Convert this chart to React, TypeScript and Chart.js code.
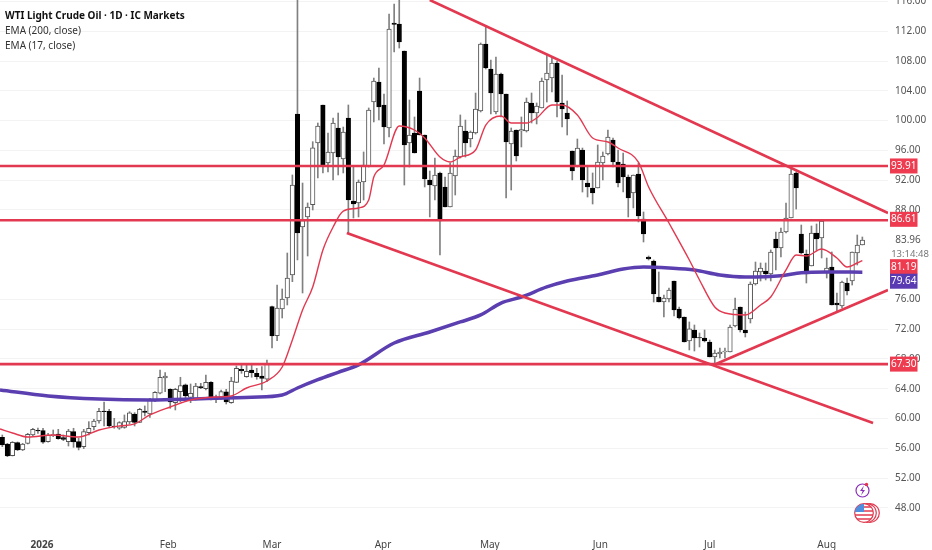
import React, { useEffect, useRef } from "react";
import { Chart, registerables } from "chart.js";

Chart.register(...registerables);

const opens = [57.47,56.57,55.0,56.75,55.77,56.66,57.78,58.41,58.36,56.89,57.69,57.91,57.42,56.89,58.23,56.89,56.21,58.09,58.9,59.66,61.0,60.96,58.99,58.68,58.81,59.53,60.6,59.48,61.0,60.6,62.48,63.38,65.44,63.91,62.12,63.6,64.5,62.84,62.7,64.27,64.0,64.85,62.84,62.84,63.56,62.12,64.85,66.6,65.6,66.51,66.06,65.7,65.26,
75.01,71.12,74.7,76.18,79.27,100.89,85.71,87.06,88.71,97.0,102.1,94.31,95.65,99.01,94.85,100.35,89.21,88.94,91.76,93.91,102.5,105.19,102.1,99.01,113.11,112.98,109.35,97.0,98.34,103.98,98.07,92.03,91.22,92.97,91.09,88.4,92.56,95.11,98.61,97.53,98.34,101.29,110.29,106.93,101.16,106.26,103.58,96.86,98.74,98.61,98.61,102.37,101.02,101.7,105.46,105.72,107.74,102.37,101.02,
95.92,93.91,96.05,91.62,90.95,90.95,94.31,95.52,97.4,94.44,94.17,92.43,90.28,92.83,86.79,81.68,81.15,76.31,75.64,76.04,78.46,74.7,73.63,70.4,71.88,70.87,70.81,70.27,68.26,68.66,68.93,68.93,72.42,74.97,71.88,73.36,78.06,79.67,79.8,79.4,84.1,82.89,85.04,86.92,92.97,84.77,82.09,80.48,84.91,84.24,79.54,80.34,75.51,75.1,78.19,78.46,82.22,83.3];
const highs = [57.78,56.66,56.89,56.84,56.66,58.0,58.68,58.72,58.68,58.0,58.45,58.54,57.78,58.54,58.68,57.33,58.54,59.57,59.88,61.36,62.21,61.23,60.02,59.57,60.47,60.91,60.78,61.36,61.68,62.7,63.6,66.51,66.15,64.0,64.05,65.53,64.63,64.63,64.72,64.72,65.84,64.94,63.15,63.82,63.91,65.53,67.05,67.32,67.32,67.32,66.73,66.96,67.85,
75.1,77.92,77.39,82.22,92.7,117,91.62,88.94,97.17,99.68,102.1,98.34,100.35,101.02,99.14,102.1,93.77,92.03,95.79,101.7,105.72,107.07,103.58,114.32,115.66,117,109.35,102.77,100.49,105.72,98.07,93.23,94.98,93.1,92.43,94.31,96.06,100.76,100.08,98.61,103.71,110.43,112.57,108.14,108.54,106.4,103.58,99.01,98.74,100.49,103.04,103.71,102.37,105.72,108.81,108.54,108.01,106.13,102.64,
95.92,97.53,96.32,93.77,92.97,96.73,95.79,98.74,97.67,96.05,95.65,92.7,92.7,94.31,87.73,81.82,81.28,79.67,76.58,77.52,78.46,74.97,73.63,72.96,72.55,71.48,71.88,70.54,69.2,69.46,69.46,72.55,76.18,74.97,74.3,78.33,81.01,80.88,80.88,82.63,85.04,85.58,88.94,93.77,93.1,85.98,82.63,85.85,86.12,86.52,81.55,82.36,76.85,78.46,78.86,82.36,84.64,84.37];
const lows = [56.21,54.87,54.96,55.68,55.68,56.57,57.69,58.0,56.66,56.8,57.56,57.2,57.02,56.3,56.12,55.77,55.95,57.78,58.45,59.35,58.99,58.81,58.68,58.54,58.68,59.26,58.99,59.44,60.33,60.15,62.26,63.29,63.6,61.36,61.14,62.26,62.7,62.12,62.48,64.0,63.82,62.48,62.12,62.57,61.94,62.03,64.81,66.06,65.53,65.53,65.26,63.82,64.94,
69.46,70.44,73.49,75.24,78.37,81.28,76.85,81.82,88.0,92.3,92.97,93.1,92.03,92.7,92.97,84.91,86.92,87.06,89.34,93.77,99.82,100.08,96.86,97.8,109.22,109.75,91.35,93.77,95.65,98.07,91.09,87.06,89.34,81.95,88.4,88.4,90.01,94.98,95.11,96.46,98.2,101.16,106.93,100.89,100.89,100.49,89.61,90.68,94.58,96.46,98.47,99.68,99.55,101.7,102.5,103.84,100.49,99.14,98.07,
92.03,93.77,90.41,89.74,88.8,90.95,92.03,95.38,93.77,91.09,90.41,87.06,88.27,86.39,83.7,81.28,75.64,75.64,73.63,75.64,73.76,73.36,70.27,69.2,69.06,69.6,70.27,68.26,67.45,68.12,68.12,68.93,72.28,71.61,70.94,72.82,77.92,78.46,78.6,78.46,79.94,81.68,84.91,86.92,88.13,82.09,78.19,80.48,82.63,81.55,78.86,75.24,74.3,74.84,76.58,77.92,80.61,83.3];
const closes = [56.44,54.96,56.8,55.77,56.57,57.87,58.54,58.32,56.8,57.78,57.83,57.29,57.2,58.32,56.84,56.12,58.23,58.68,59.66,60.96,60.91,58.99,58.9,59.44,59.57,60.74,59.48,61.23,60.82,62.57,63.51,65.53,65.7,62.21,63.91,64.41,63.02,63.38,64.36,64.09,64.85,62.84,62.62,63.6,62.21,65.03,66.73,66.42,66.33,66.15,65.6,65.39,67.32,
71.08,74.84,76.04,78.86,91.35,84.91,86.56,88.4,96.36,99.28,94.04,95.79,99.68,95.11,98.47,89.34,88.8,91.76,94.04,101.43,105.32,101.83,99.14,112.31,112.91,110.56,96.73,98.07,95.65,98.07,92.16,91.35,92.7,86.52,88.4,92.97,95.25,99.28,97.0,98.47,101.56,110.29,107.07,103.71,106.26,103.58,97.13,98.61,95.25,98.81,102.5,101.02,101.96,105.32,106.4,107.74,102.5,101.56,100.22,
93.23,96.32,92.03,91.09,90.28,94.44,95.25,97.8,94.44,91.62,92.43,89.61,92.7,87.19,84.77,81.42,76.72,75.64,76.18,77.25,74.57,73.49,70.27,72.02,70.81,70.81,70.4,68.26,68.79,68.93,69.06,72.28,74.7,71.88,71.48,78.06,79.8,80.21,79.4,82.36,82.89,85.04,86.92,92.83,90.95,82.22,79.4,84.91,84.1,86.52,80.21,75.24,75.24,78.33,77.12,82.36,83.3,83.97];

const ema200Index = [-0.45,9,19,29,39,49,55,58,62,66,70,77,84,90,94,98,102,107,111,117,122,126,131,136,141,146,153,157,162,169];
const ema200Values = [63.82,63.02,62.61,62.48,62.65,62.84,63.15,64.09,65.2,66.2,67.2,70.13,71.61,72.96,73.9,75.5,76.31,77.66,78.46,79.27,80.07,80.34,80.21,79.94,79.27,79.0,79.17,79.58,79.67,79.64];

const ema17Index = [-0.45,2,5,10,15,19,23,26,29,33,37,42,45,48,52,55,57,59,61,63,65,67,70,72,73,75,78,81,83,86,88,90,93,95,98,100,103,105,108,110,113,116,119,121,125,127,131,135,137,140,142,146,149,151,154,156,158,161,164,166,168,169];
const ema17Values = [58.58,58.05,57.51,57.78,57.51,58.45,58.99,59.26,60.47,61.54,62.48,62.88,63.02,64.09,65.03,66.91,70.54,74.57,77.66,82.63,85.71,87.86,88.27,89.34,92.43,94.04,99.28,98.74,97.67,95.11,94.44,95.11,96.05,99.41,100.62,99.68,99.68,100.35,102.1,102.1,100.76,97.67,97.13,96.32,94.44,91.09,86.25,81.28,78.6,74.97,74.16,73.9,75.24,76.31,79.94,81.95,81.82,82.76,81.55,80.34,80.88,81.19];

const levels = [93.91, 86.61, 67.3];
const upperTrendX = [84, 174.04];
const upperTrendY = [116.2, 87.59];
const lowerTrendX = [67.7, 171.1];
const lowerTrendY = [84.9, 59.39];
const risingTrendX = [140, 174.04];
const risingTrendY = [67.25, 77.25];

const yTicks = [116,112,108,104,100,96,92,88,76,72,68,64,60,56,52,48];
const monthLabels = ["2026","Feb","Mar","Apr","May","Jun","Jul","Aug"];
const monthIndex = [7.8,32.6,53,74.8,95.8,117.5,139,162];

const tagValues = [93.91,86.61,81.19,79.64,67.3];
const tagColors = ["#ee3b4f","#ee3b4f","#ee3b4f","#5a3bb2","#ee3b4f"];
const tagShift = [0,-1,6,9,0];

const FONT = "'Noto Sans', sans-serif";
const XMIN = -0.452, XMAX = 174.04, YMAX = 116.2, YMIN = 45.69;
const RED = "#e23850";

const tagsPlugin = {
  id: "tags",
  afterDraw(chart: any) {
    const { ctx, scales } = chart;
    ctx.save();
    ctx.font = `10px ${FONT}`;
    ctx.textAlign = "center";
    ctx.textBaseline = "middle";
    tagValues.forEach((v, i) => {
      const y = scales.y.getPixelForValue(v) + tagShift[i];
      ctx.fillStyle = tagColors[i];
      ctx.fillRect(890, y - 7.5, 27.5, 15);
      ctx.fillStyle = "#fff";
      ctx.fillText(v.toFixed(2), 903.7, y);
    });
    ctx.fillStyle = "#555";
    ctx.fillText("83.96", 908, scales.y.getPixelForValue(83.96));
    ctx.font = `9.5px ${FONT}`;
    ctx.fillStyle = "#777";
    ctx.fillText("13:14:48", 910, 254);
    ctx.restore();
  },
};

export default function App() {
  const ref = useRef<HTMLCanvasElement>(null);
  useEffect(() => {
    const idx = opens.map((_, i) => i);
    const line = (xs: number[], ys: number[]) => xs.map((x, i) => ({ x, y: ys[i] }));
    const seg = (data: any[], color: string, width: number, order: number, extra: any = {}) => ({
      type: "line", data, borderColor: color, borderWidth: width, pointRadius: 0, fill: false, order, ...extra,
    });
    const chart = new Chart(ref.current as HTMLCanvasElement, {
      type: "bar",
      data: {
        datasets: [
          {
            data: idx.map((i) => ({ x: i, y: [lows[i], highs[i]] })),
            backgroundColor: "#808080",
            barThickness: 1,
            grouped: false,
            order: 6,
          },
          {
            data: idx.map((i) => ({ x: i, y: [opens[i], closes[i]] })),
            backgroundColor: idx.map((i) => (closes[i] >= opens[i] ? "#ffffff" : "#000000")),
            borderColor: idx.map((i) => (closes[i] >= opens[i] ? "#555555" : "#000000")),
            borderWidth: 1,
            borderSkipped: false,
            barThickness: 4.5,
            grouped: false,
            order: 5,
          },
          seg(line(ema200Index, ema200Values), "#5b3fb0", 3.5, 4, { cubicInterpolationMode: "monotone" }),
          seg(line(ema17Index, ema17Values), RED, 1.4, 3, { cubicInterpolationMode: "monotone" }),
          ...levels.map((v) => seg([{ x: XMIN, y: v }, { x: XMAX, y: v }], RED, 2.6, 2)),
          seg(line(upperTrendX, upperTrendY), RED, 2.6, 1),
          seg(line(lowerTrendX, lowerTrendY), RED, 2.6, 1),
          seg(line(risingTrendX, risingTrendY), RED, 2.6, 1),
        ] as any,
      },
      options: {
        responsive: false,
        animation: false,
        layout: { padding: 0, autoPadding: false },
        plugins: { legend: { display: false }, tooltip: { enabled: false } },
        scales: {
          x: {
            type: "linear",
            min: XMIN,
            max: XMAX,
            offset: false,
            grid: { display: false },
            border: { display: false },
            afterFit: (s: any) => { s.height = 25; s.paddingLeft = 0; s.paddingRight = 0; },
            afterBuildTicks: (s: any) => { s.ticks = monthIndex.map((value) => ({ value })); },
            ticks: {
              autoSkip: false,
              maxRotation: 0,
              padding: 6,
              color: "#444",
              font: (c: any) => ({ family: FONT, size: 10, weight: c.index === 0 ? "bold" : "normal" }),
              callback: (_v: any, i: number) => monthLabels[i],
            },
          },
          y: {
            type: "linear",
            position: "right",
            min: YMIN,
            max: YMAX,
            grid: { color: "#f3f3f3", drawTicks: false },
            border: { display: false },
            afterFit: (s: any) => { s.width = 44; s.paddingTop = 0; s.paddingBottom = 0; },
            afterBuildTicks: (s: any) => { s.ticks = yTicks.map((value) => ({ value })); },
            ticks: {
              autoSkip: false,
              padding: 7,
              color: "#555",
              font: { family: FONT, size: 10 },
              callback: (v: any) => Number(v).toFixed(2),
            },
          },
        },
      } as any,
      plugins: [tagsPlugin] as any,
    });
    return () => chart.destroy();
  }, []);

  const legendLine: React.CSSProperties = {
    position: "absolute", left: 5, fontFamily: FONT, fontSize: 10, lineHeight: "14px", color: "#333", whiteSpace: "nowrap",
  };
  return (
    <div style={{ position: "absolute", left: 0, top: 0, width: 932, height: 550, background: "#fff", overflow: "hidden" }}>
      <canvas ref={ref} width={932} height={550} style={{ display: "block" }} />
      <div style={{ ...legendLine, top: 8, fontWeight: 700, color: "#111" }}>WTI Light Crude Oil · 1D · IC Markets</div>
      <div style={{ ...legendLine, top: 23 }}>EMA (200, close)</div>
      <div style={{ ...legendLine, top: 38 }}>EMA (17, close)</div>
      <svg width={932} height={550} style={{ position: "absolute", left: 0, top: 0, pointerEvents: "none" }}>
        <defs>
          <clipPath id="flagClip"><circle cx={864} cy={513} r={9.3} /></clipPath>
        </defs>
        <circle cx={862.5} cy={490.5} r={6.5} fill="#fff" stroke="#8a2fb8" strokeWidth={1.2} />
        <path d="M864 485.5 L860 491 L862.6 491 L861 495.5 L865 490 L862.4 490 Z" fill="#8a2fb8" />
        <circle cx={866.5} cy={484.5} r={1.7} fill="#e8334a" />
        {[870, 867, 864].map((cx) => (
          <circle key={cx} cx={cx} cy={513} r={9.3} fill="#fff" stroke="#e0394f" strokeWidth={1.2} />
        ))}
        <g clipPath="url(#flagClip)">
          {[507, 511, 515, 519].map((y) => (
            <line key={y} x1={854} x2={874} y1={y} y2={y} stroke="#e0394f" strokeWidth={1.6} />
          ))}
          <rect x={854} y={503} width={10} height={9} fill="#4f8fe0" />
        </g>
      </svg>
    </div>
  );
}
